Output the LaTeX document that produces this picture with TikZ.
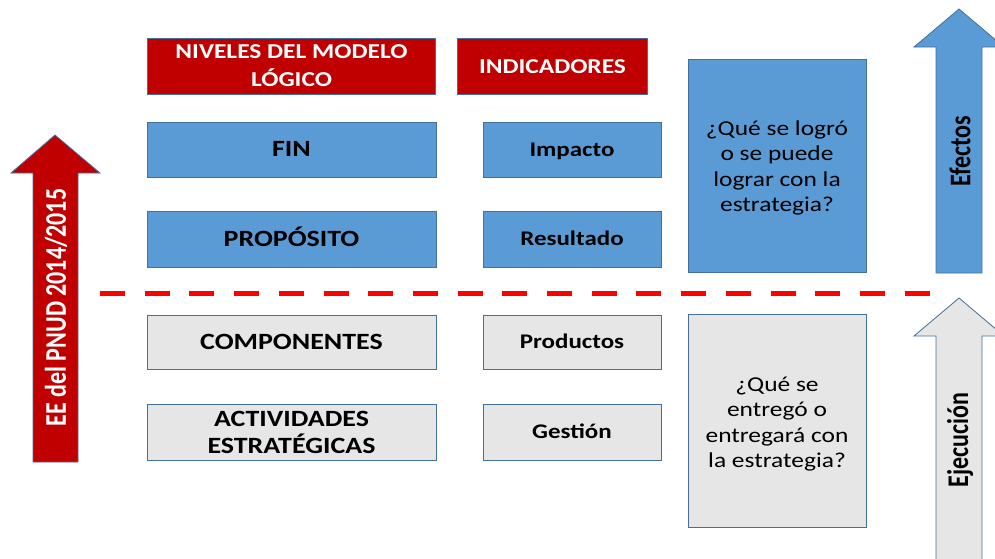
\documentclass[tikz,border=0pt]{standalone}
\usepackage{fontspec}
\setmainfont{Carlito}
\newfontfamily\wide{Carlito}[FakeStretch=1.2]
\definecolor{myred}{HTML}{C00000}
\definecolor{myblue}{HTML}{5B9BD5}
\definecolor{mygray}{HTML}{E7E6E6}
\definecolor{edgecol}{HTML}{41719C}
\definecolor{dashred}{HTML}{FF0000}
\tikzset{
  box/.style={draw=edgecol, line width=0.8pt, inner sep=0pt, align=center},
  headbox/.style={box, fill=myred, text=white, font=\wide\bfseries\fontsize{21.2}{28}\selectfont},
  bigbox/.style={box, font=\wide\bfseries\fontsize{23.3}{27}\selectfont},
  midbox/.style={box, font=\wide\bfseries\fontsize{20.8}{25}\selectfont, text height=13.2pt, text depth=0pt},
  capcenter/.style={text height=14.8pt, text depth=0pt},
  qbox/.style={box, font=\wide\fontsize{21.2}{25.5}\selectfont},
  qtext/.style={align=center, inner sep=0pt, font=\wide\fontsize{21.2}{25.5}\selectfont},
  bluefill/.style={fill=myblue},
  grayfill/.style={fill=mygray},
  arrowshape/.style={draw=edgecol, line width=0.8pt, line join=miter},
  arrowtext/.style={rotate=90, inner sep=0pt, font=\bfseries\fontsize{24}{28}\selectfont},
  sepline/.style={draw=dashred, line width=5pt, dash pattern=on 25pt off 19.7pt}
}
\begin{document}
\begin{tikzpicture}[x=1pt,y=-1pt]
\useasboundingbox (0,0) rectangle (995,558);
\clip (0,0) rectangle (995,558);
% header boxes
\node[headbox, minimum width=288pt, minimum height=56pt] (niv) at (291.5,66) {NIVELES DEL MODELO\\LÓGICO};
\node[headbox, capcenter, minimum width=190pt, minimum height=56pt] (ind) at (552.5,66) {INDICADORES};
% upper levels
\node[bigbox, capcenter, bluefill, minimum width=289pt, minimum height=55pt] (fin) at (291.5,149.5) {FIN};
\node[midbox, bluefill, minimum width=178pt, minimum height=55pt] (imp) at (572,149.5) {Impacto};
\node[bigbox, capcenter, bluefill, minimum width=289pt, minimum height=56pt] (pro) at (291.5,239) {PROPÓSITO};
\node[midbox, bluefill, minimum width=178pt, minimum height=56pt] (res) at (572,239) {Resultado};
% lower levels
\node[bigbox, capcenter, grayfill, minimum width=289pt, minimum height=54pt] (com) at (291.5,342) {COMPONENTES};
\node[midbox, grayfill, minimum width=178pt, minimum height=54pt] (prd) at (572,342) {Productos};
\node[bigbox, grayfill, minimum width=289pt, minimum height=56pt] (act) at (291.5,432) {ACTIVIDADES\\ESTRATÉGICAS};
\node[midbox, grayfill, minimum width=178pt, minimum height=56pt] (ges) at (572,432) {Gestión};
% question boxes
\node[qbox, bluefill, minimum width=178pt, minimum height=213pt] (q1) at (777,165.5) {};
\node[qtext] (q1t) at (777,168) {¿Qué se logró\\o se puede\\lograr con la\\estrategia?};
\node[qbox, grayfill, minimum width=178pt, minimum height=213pt] (q2) at (777,420.5) {};
\node[qtext] (q2t) at (777,424) {¿Qué se\\entregó o\\entregará con\\la estrategia?};
% dashed separator
\coordinate (sepL) at (100,293);
\coordinate (sepR) at (930,293);
\draw[sepline] (sepL) -- (sepR);
% left red arrow
\draw[arrowshape, fill=myred] (55,135) -- (100,173) -- (78,173) -- (78,462) -- (33,462) -- (33,173) -- (11,173) -- cycle;
\node[arrowtext, text=white] (ee) at (56,307.5) {\scalebox{1}[1.25]{EE del PNUD 2014/2015}};
% right arrows
\draw[arrowshape, fill=myblue] (959,9) -- (1004,47) -- (982,47) -- (982,273) -- (936,273) -- (936,47) -- (914,47) -- cycle;
\node[arrowtext] (efe) at (960,151) {\scalebox{1}[1.25]{Efectos}};
\draw[arrowshape, fill=mygray] (959,298) -- (1004,336) -- (982,336) -- (982,580) -- (936,580) -- (936,336) -- (914,336) -- cycle;
\node[arrowtext] (eje) at (960,440) {\scalebox{1}[1.25]{Ejecución}};
\end{tikzpicture}
\end{document}
